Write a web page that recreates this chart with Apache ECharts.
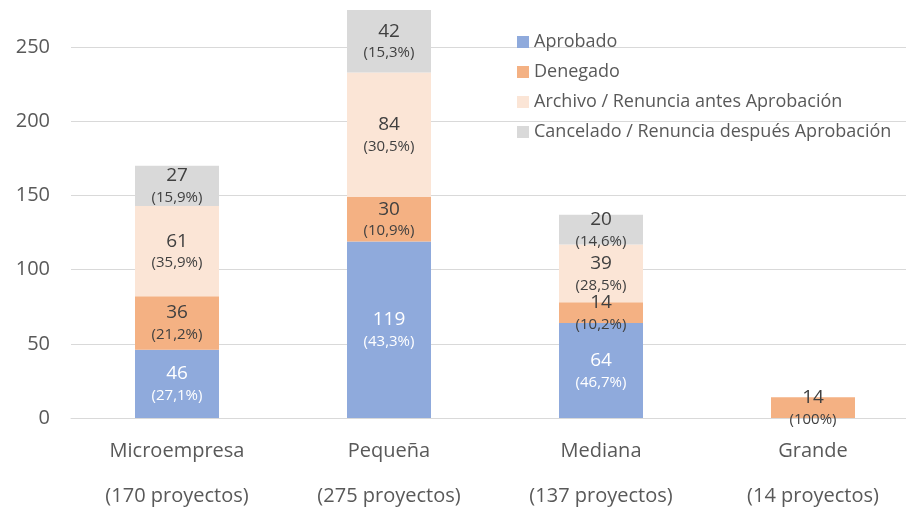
<!DOCTYPE html>
<html>
    <head>
        <meta charset="UTF-8">
        <title></title>
        <style>
            html, body { margin: 0; padding: 0; background: #fff; }
            #chart { width: 906px; height: 508px; }
        </style>
        <script src="https://cdn.jsdelivr.net/npm/echarts@6/dist/echarts.min.js"></script>
    </head>
    <body>
        <div id="chart"></div>
    </body>
    <script>
        var categories = ['Microempresa', 'Pequeña', 'Mediana', 'Grande'];
        var projects = [170, 275, 137, 14];

        var aprobado = [46, 119, 64, null];
        var denegado = [36, 30, 14, 14];
        var archivo = [61, 84, 39, null];
        var cancelado = [27, 42, 20, null];

        var pctAprobado = ['27,1%', '43,3%', '46,7%', ''];
        var pctDenegado = ['21,2%', '10,9%', '10,2%', '100%'];
        var pctArchivo = ['35,9%', '30,5%', '28,5%', ''];
        var pctCancelado = ['15,9%', '15,3%', '14,6%', ''];

        var yTicks = [0, 50, 100, 150, 200, 250];

        var font = 'Open Sans';

        function makeSeries(name, data, pcts, color, textColor) {
            return {
                name: name,
                type: 'bar',
                stack: 'total',
                barWidth: 84,
                data: data,
                itemStyle: { color: color },
                label: {
                    show: true,
                    position: 'inside',
                    formatter: function (p) {
                        if (p.value == null) return '';
                        return '{v|' + p.value + '}\n{p|(' + pcts[p.dataIndex] + ')}';
                    },
                    rich: {
                        v: { fontFamily: font, fontSize: 19, color: textColor, lineHeight: 24 },
                        p: { fontFamily: font, fontSize: 15, color: textColor, lineHeight: 20 }
                    }
                },
                emphasis: { disabled: true }
            };
        }

        var chart = echarts.init(document.getElementById('chart'));
        chart.setOption({
            animation: false,
            grid: { left: 71, right: -13, top: -27, bottom: 90, outerBoundsMode: 'none', containLabel: false },
            legend: {
                orient: 'vertical',
                left: 512,
                top: 26,
                itemWidth: 12,
                itemHeight: 12,
                itemGap: 8,
                icon: 'rect',
                textStyle: { fontFamily: font, fontSize: 18, color: '#595959', lineHeight: 22 },
                data: ['Aprobado', 'Denegado', 'Archivo / Renuncia antes Aprobación', 'Cancelado / Renuncia después Aprobación']
            },
            xAxis: {
                type: 'category',
                data: categories,
                axisLine: { lineStyle: { color: '#d9d9d9' } },
                axisTick: { show: false },
                axisLabel: {
                    margin: 11,
                    formatter: function (v, i) {
                        return '{a|' + v + '}\n{b|(' + projects[i] + ' proyectos)}';
                    },
                    rich: {
                        a: { fontFamily: font, fontSize: 20, color: '#595959', lineHeight: 45 },
                        b: { fontFamily: font, fontSize: 20, color: '#595959', lineHeight: 45 }
                    }
                }
            },
            yAxis: {
                type: 'value',
                min: 0,
                max: 300,
                interval: 50,
                axisLine: { show: false },
                axisTick: { show: false },
                splitLine: { lineStyle: { color: '#d9d9d9' } },
                axisLabel: {
                    margin: 21,
                    fontFamily: font,
                    fontSize: 20,
                    color: '#595959',
                    formatter: function (v) {
                        return yTicks.indexOf(v) >= 0 ? String(v) : '';
                    }
                }
            },
            series: [
                makeSeries('Aprobado', aprobado, pctAprobado, '#8faadc', '#ffffff'),
                makeSeries('Denegado', denegado, pctDenegado, '#f4b183', '#404040'),
                makeSeries('Archivo / Renuncia antes Aprobación', archivo, pctArchivo, '#fbe5d6', '#404040'),
                makeSeries('Cancelado / Renuncia después Aprobación', cancelado, pctCancelado, '#d9d9d9', '#404040')
            ]
        });
    </script>
</html>
